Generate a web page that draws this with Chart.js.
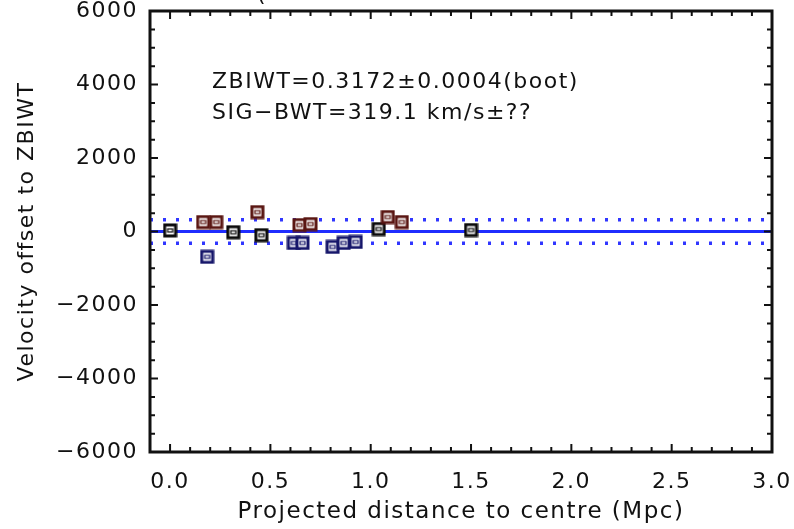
<!DOCTYPE html>
<html>
<head>
<meta charset="utf-8">
<script src="https://cdn.jsdelivr.net/npm/chart.js@4/dist/chart.umd.min.js"></script>
<style>
  html, body { margin: 0; padding: 0; background: #fff; }
</style>
</head>
<body>
<canvas id="velocity-chart" width="794" height="529"></canvas>
<script>
// axis ranges and ticks
const xMin = -0.1, xMax = 3.0
const yMin = -6000, yMax = 6000
const xTicks = [0, 0.5, 1.0, 1.5, 2.0, 2.5, 3.0]
const yTicks = [-6000, -4000, -2000, 0, 2000, 4000, 6000]
const xMinorStep = 0.1
const yMinorStep = 500

// galaxies, split by marker colour (distance in Mpc, velocity offset in km/s)
const redX = [0.165, 0.23, 0.435, 0.645, 0.70, 1.085, 1.155]
const redY = [257, 257, 528, 176, 203, 393, 257]
const navyX = [0.185, 0.617, 0.66, 0.81, 0.865, 0.925]
const navyY = [-690, -312, -312, -420, -312, -285]
const blackX = [0.0, 0.315, 0.455, 1.04, 1.5]
const blackY = [30, -20, -100, 68, 40]

// biweight dispersion and the text block
const sigma = 319.1
const zbiwtText = 'ZBIWT=0.3172\u00b10.0004(boot)'
const sigText = 'SIG\u2212BWT=319.1 km/s\u00b1??'

const FONT = 'DejaVu Sans'

function toPoints(xs, ys) {
    return xs.map((x, i) => ({x: x, y: ys[i]}))
}

// open square with a tiny mark inside, like the IDL symbol
function makeMarker(color) {
    const c = document.createElement('canvas')
    c.width = 15
    c.height = 15
    const g = c.getContext('2d')
    g.fillStyle = '#fff'
    g.fillRect(1, 1, 13, 13)
    g.strokeStyle = color
    g.lineWidth = 3
    g.strokeRect(2, 2, 11, 11)
    g.lineWidth = 1.2
    g.strokeRect(5, 6, 5, 3)
    return c
}

// box frame with inward ticks on all four sides, plus the text block
const framePlugin = {
    id: 'frame',
    beforeDraw(chart) {
        chart.ctx.letterSpacing = '1.5px'
    },
    afterDatasetsDraw(chart) {
        const {ctx, chartArea: a, scales: {x, y}} = chart
        ctx.save()
        ctx.strokeStyle = '#111'
        ctx.lineWidth = 2
        ctx.beginPath()
        for (let i = Math.round(xMin / xMinorStep); i <= Math.round(xMax / xMinorStep); i++) {
            const v = i * xMinorStep
            const major = xTicks.some(t => Math.abs(t - v) < 1e-6)
            const len = major ? 8 : 5
            const px = x.getPixelForValue(v)
            ctx.moveTo(px, a.bottom)
            ctx.lineTo(px, a.bottom - len)
            ctx.moveTo(px, a.top)
            ctx.lineTo(px, a.top + len)
        }
        for (let i = Math.round(yMin / yMinorStep); i <= Math.round(yMax / yMinorStep); i++) {
            const v = i * yMinorStep
            const major = yTicks.includes(v)
            const len = major ? 8 : 5
            const py = y.getPixelForValue(v)
            ctx.moveTo(a.left, py)
            ctx.lineTo(a.left + len, py)
            ctx.moveTo(a.right, py)
            ctx.lineTo(a.right - len, py)
        }
        ctx.stroke()
        ctx.lineWidth = 3
        ctx.strokeRect(a.left, a.top, a.right - a.left, a.bottom - a.top)

        ctx.fillStyle = '#111'
        ctx.font = '22px "' + FONT + '"'
        ctx.textAlign = 'left'
        ctx.textBaseline = 'alphabetic'
        ctx.fillText(zbiwtText, a.left + 62, a.top + 77)
        ctx.fillText(sigText, a.left + 62, a.top + 108)
        // the title above is cut off, only the bottom of its bracket shows
        ctx.fillText('(', 257, 1)
        ctx.restore()
    }
}

const canvas = document.querySelector('#velocity-chart')
const context = canvas.getContext('2d')

const hLine = (val, extra) => Object.assign({
    type: 'line',
    data: [{x: xMin, y: val}, {x: xMax, y: val}],
    borderColor: '#1f2dff',
    borderWidth: 3,
    pointRadius: 0,
    order: 5
}, extra)

let chart = new Chart(context, {
    type: 'scatter',
    data: {
        datasets: [
            {label: 'red', data: toPoints(redX, redY), pointStyle: makeMarker('#5a1612'), order: 1},
            {label: 'navy', data: toPoints(navyX, navyY), pointStyle: makeMarker('#16166a'), order: 1},
            {label: 'black', data: toPoints(blackX, blackY), pointStyle: makeMarker('#0b0b0b'), order: 1},
            hLine(0),
            hLine(sigma, {borderDash: [3, 10], borderWidth: 3.5, borderColor: '#3036ff'}),
            hLine(-sigma, {borderDash: [3, 10], borderWidth: 3.5, borderColor: '#3036ff'})
        ]
    },
    options: {
        responsive: false,
        animation: false,
        layout: {padding: {top: 11, right: 22, left: 0, bottom: 0}},
        plugins: {
            legend: {display: false},
            tooltip: {enabled: false}
        },
        scales: {
            x: {
                type: 'linear',
                min: xMin,
                max: xMax,
                grid: {display: false, drawTicks: false},
                border: {display: false},
                afterBuildTicks: s => { s.ticks = xTicks.map(v => ({value: v})) },
                afterFit: s => {
                    s.height = 77
                    s.paddingLeft = 0
                    s.paddingRight = 0
                },
                ticks: {
                    padding: 19,
                    color: '#111',
                    autoSkip: false,
                    maxRotation: 0,
                    font: {family: FONT, size: 22, lineHeight: 1},
                    callback: v => Number(v).toFixed(1)
                },
                title: {
                    display: true,
                    text: 'Projected distance to centre (Mpc)',
                    color: '#111',
                    font: {family: FONT, size: 23},
                    padding: {top: 0, bottom: 3}
                }
            },
            y: {
                type: 'linear',
                min: yMin,
                max: yMax,
                grid: {display: false, drawTicks: false},
                border: {display: false},
                afterBuildTicks: s => { s.ticks = yTicks.map(v => ({value: v})) },
                afterFit: s => {
                    s.width = 150
                    s.paddingTop = 0
                    s.paddingBottom = 0
                },
                ticks: {
                    padding: 12,
                    color: '#111',
                    font: {family: FONT, size: 22, lineHeight: 1},
                    callback: v => v < 0 ? '\u2212' + Math.abs(v) : String(v)
                },
                title: {
                    display: true,
                    text: 'Velocity offset to ZBIWT',
                    color: '#111',
                    font: {family: FONT, size: 22},
                    padding: {top: 14, bottom: 0}
                }
            }
        }
    },
    plugins: [framePlugin]
})
</script>
</body>
</html>
